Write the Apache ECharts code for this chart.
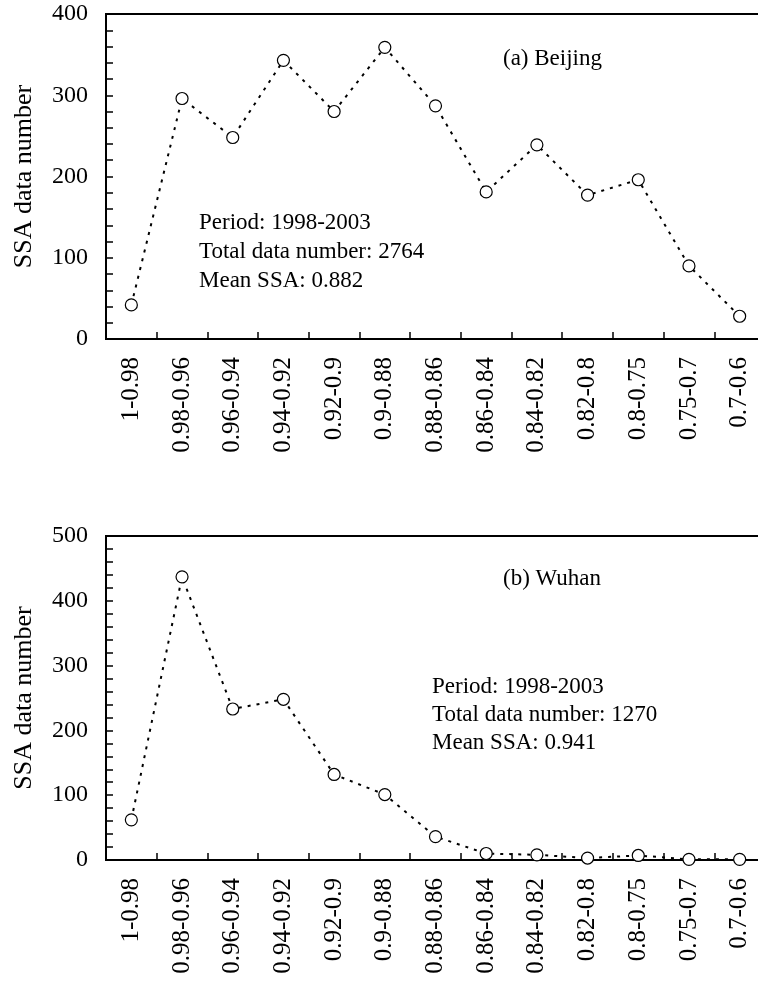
<!DOCTYPE html>
<html lang="en">
<head>
  <meta charset="UTF-8">
  <script src="https://cdn.jsdelivr.net/npm/echarts@6/dist/echarts.min.js"></script>
  <style>
    html, body { margin: 0; padding: 0; background: #fff; }
    #chart { width: 758px; height: 983px; }
  </style>
</head>
<body>
  <div id="chart"></div>
  <script>
    // SSA bins (x axis), shared by both panels
    const ssaBins = ['1-0.98', '0.98-0.96', '0.96-0.94', '0.94-0.92', '0.92-0.9', '0.9-0.88',
      '0.88-0.86', '0.86-0.84', '0.84-0.82', '0.82-0.8', '0.8-0.75', '0.75-0.7', '0.7-0.6'];

    // data counts
    const beijingCounts = [42, 296, 248, 343, 280, 359, 287, 181, 239, 177, 196, 90, 28];
    const wuhanCounts = [62, 437, 233, 248, 132, 101, 36, 10, 8, 3, 7, 1, 1];

    const beijingNotes = ['Period: 1998-2003', 'Total data number: 2764', 'Mean SSA: 0.882'];
    const wuhanNotes = ['Period: 1998-2003', 'Total data number: 1270', 'Mean SSA: 0.941'];

    const font = 'Liberation Serif, Times New Roman, serif';

    function xAxisFor(gridIndex) {
      return {
        type: 'category',
        gridIndex: gridIndex,
        data: ssaBins,
        boundaryGap: true,
        axisLine: { lineStyle: { color: '#000', width: 2 } },
        axisTick: { show: true, inside: true, length: 7, interval: 0, lineStyle: { color: '#000', width: 1.5 } },
        axisLabel: { rotate: 90, margin: 18, color: '#000', fontSize: 25, fontFamily: font, interval: 0 },
        splitLine: { show: false }
      };
    }

    function yAxisFor(gridIndex, max) {
      return {
        type: 'value',
        gridIndex: gridIndex,
        min: 0,
        max: max,
        interval: 100,
        name: 'SSA data number',
        nameLocation: 'middle',
        nameGap: 69,
        nameTextStyle: { color: '#000', fontSize: 26, fontFamily: font },
        axisLine: { show: true, lineStyle: { color: '#000', width: 2 } },
        axisTick: { show: true, inside: true, length: 7, lineStyle: { color: '#000', width: 1.5 } },
        minorTick: { show: true, splitNumber: 5, length: 7, lineStyle: { color: '#000', width: 1.5 } },
        axisLabel: { color: '#000', fontSize: 24, fontFamily: font, margin: 18 },
        splitLine: { show: false },
        minorSplitLine: { show: false }
      };
    }

    function seriesFor(idx, data) {
      return {
        type: 'line',
        xAxisIndex: idx,
        yAxisIndex: idx,
        data: data,
        symbol: 'circle',
        symbolSize: 12,
        itemStyle: { color: '#fff', borderColor: '#000', borderWidth: 1.2 },
        lineStyle: { color: '#000', width: 2, type: [3, 6] },
        emphasis: { disabled: true },
        animation: false
      };
    }

    function noteText(lines, left, top, lh) {
      return lines.map((t, i) => ({
        type: 'text',
        left: left,
        top: top + i * lh,
        style: { text: t, fill: '#000', font: '23px ' + font }
      }));
    }

    const chart = echarts.init(document.getElementById('chart'));
    const option = {
      backgroundColor: '#fff',
      animation: false,
      grid: [
        { left: 106, top: 14, right: -7, height: 325, show: true, borderColor: '#000', borderWidth: 2, outerBoundsMode: 'none', containLabel: false },
        { left: 106, top: 536, right: -7, height: 324, show: true, borderColor: '#000', borderWidth: 2, outerBoundsMode: 'none', containLabel: false }
      ],
      xAxis: [xAxisFor(0), xAxisFor(1)],
      yAxis: [yAxisFor(0, 400), yAxisFor(1, 500)],
      series: [seriesFor(0, beijingCounts), seriesFor(1, wuhanCounts)],
      graphic: [
        { type: 'text', left: 503, top: 47, style: { text: '(a) Beijing', fill: '#000', font: '23px ' + font } },
        { type: 'text', left: 503, top: 567, style: { text: '(b) Wuhan', fill: '#000', font: '23px ' + font } }
      ].concat(noteText(beijingNotes, 199, 211, 29), noteText(wuhanNotes, 432, 675, 28))
    };
    chart.setOption(option);
  </script>
</body>
</html>
